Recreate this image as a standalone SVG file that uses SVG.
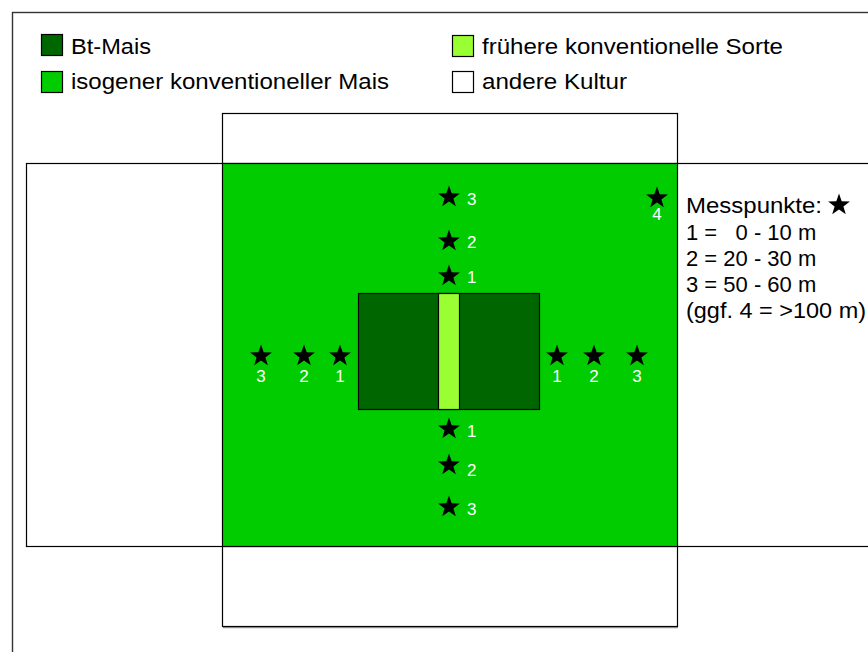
<svg xmlns="http://www.w3.org/2000/svg" width="868" height="652" viewBox="0 0 868 652">
  <defs>
    <style>
      .plot { stroke: #000; stroke-width: 1.2; }
      .bt { fill: #006600; }
      .iso { fill: #00cc00; }
      .old { fill: #99ff33; }
      .other { fill: #ffffff; }
      .txt { font-family: "Liberation Sans", Arial, sans-serif; font-size: 22px; fill: #000; }
      .num { font-family: "Liberation Sans", Arial, sans-serif; font-size: 17px; fill: #ffffff; }
      .star { fill: #000; }
    </style>
    <!-- five-pointed star, centred on the origin -->
    <polygon id="star" points="0,-11.5 2.7,-3.7 10.9,-3.6 4.4,1.4 6.8,9.3 0,4.6 -6.8,9.3 -4.4,1.4 -10.9,-3.6 -2.7,-3.7"/>
  </defs>

  <rect width="868" height="652" fill="#ffffff"/>

  <!-- page frame -->
  <g id="frame">
    <rect x="12.5" y="12.5" width="880" height="680" fill="none" stroke="#333" stroke-width="1.4"/>
  </g>

  <!-- legend -->
  <g id="legend">
    <rect class="plot bt" x="41.5" y="34.5" width="21" height="21"/>
    <text class="txt" x="71" y="54" textLength="80" lengthAdjust="spacingAndGlyphs">Bt-Mais</text>
    <rect class="plot iso" x="41.5" y="71.5" width="21" height="21"/>
    <text class="txt" x="71" y="89" textLength="318" lengthAdjust="spacingAndGlyphs">isogener konventioneller Mais</text>
    <rect class="plot old" x="452.5" y="35.5" width="21" height="21"/>
    <text class="txt" x="482" y="54" textLength="301" lengthAdjust="spacingAndGlyphs">frühere konventionelle Sorte</text>
    <rect class="plot other" x="452.5" y="71.5" width="21" height="21"/>
    <text class="txt" x="482" y="89" textLength="145" lengthAdjust="spacingAndGlyphs">andere Kultur</text>
  </g>

  <!-- surrounding crops -->
  <g id="other-crop-wide">
    <rect class="plot other" x="26.5" y="163.5" width="880" height="383"/>
  </g>
  <g id="other-crop-top">
    <rect class="plot other" x="222.5" y="113.5" width="455" height="50"/>
  </g>
  <g id="other-crop-bottom">
    <line x1="223" y1="627.5" x2="678" y2="627.5" stroke="#999" stroke-width="1.5"/>
    <rect class="plot other" x="222.5" y="546.5" width="455" height="80"/>
  </g>

  <!-- isogenic maize field -->
  <g id="iso-field">
    <rect class="plot iso" x="222.5" y="163.5" width="455" height="383"/>
  </g>

  <!-- Bt maize block with strip of the earlier variety -->
  <g id="bt-block">
    <rect class="plot bt" x="358.5" y="293.5" width="181" height="116"/>
  </g>
  <g id="old-strip">
    <rect class="plot old" x="438.5" y="293.5" width="21" height="116"/>
  </g>

  <!-- measuring points -->
  <g id="points-north">
    <use href="#star" x="449" y="197"/>
    <text class="num" x="467" y="205">3</text>
    <use href="#star" x="449" y="241"/>
    <text class="num" x="467" y="248">2</text>
    <use href="#star" x="449" y="276"/>
    <text class="num" x="467" y="283">1</text>
  </g>
  <g id="points-south">
    <use href="#star" x="449" y="429"/>
    <text class="num" x="467" y="437">1</text>
    <use href="#star" x="449" y="465"/>
    <text class="num" x="467" y="476">2</text>
    <use href="#star" x="449" y="507"/>
    <text class="num" x="467" y="515">3</text>
  </g>
  <g id="points-west" text-anchor="middle">
    <use href="#star" x="261" y="356"/>
    <text class="num" x="261" y="382">3</text>
    <use href="#star" x="304" y="356"/>
    <text class="num" x="304" y="382">2</text>
    <use href="#star" x="340" y="356"/>
    <text class="num" x="340" y="382">1</text>
  </g>
  <g id="points-east" text-anchor="middle">
    <use href="#star" x="557" y="356"/>
    <text class="num" x="557" y="382">1</text>
    <use href="#star" x="594" y="356"/>
    <text class="num" x="594" y="382">2</text>
    <use href="#star" x="637" y="356"/>
    <text class="num" x="637" y="382">3</text>
  </g>
  <g id="point-far" text-anchor="middle">
    <use href="#star" x="657" y="198"/>
    <text class="num" x="657" y="220">4</text>
  </g>

  <!-- key for measuring points -->
  <g id="point-key">
    <text class="txt" x="686" y="213" textLength="136" lengthAdjust="spacingAndGlyphs">Messpunkte:</text>
    <use href="#star" x="839" y="205"/>
    <text class="txt" x="686" y="240" xml:space="preserve">1 =   0 - 10 m</text>
    <text class="txt" x="686" y="266">2 = 20 - 30 m</text>
    <text class="txt" x="686" y="292">3 = 50 - 60 m</text>
    <text class="txt" x="686" y="318" textLength="180" lengthAdjust="spacingAndGlyphs">(ggf. 4 = &gt;100 m)</text>
  </g>
</svg>
